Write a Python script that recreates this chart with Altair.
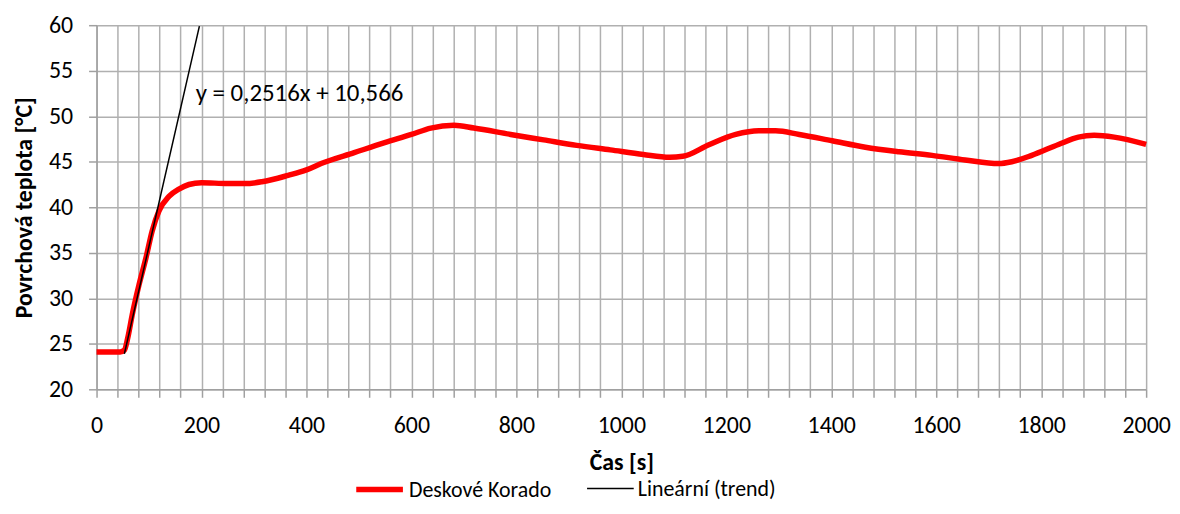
import altair as alt
import pandas as pd

# Measured curve "Deskové Korado"
t_vals = [0, 20, 45, 53, 60, 68, 81, 94, 106, 119, 138, 157, 176, 200, 250, 283, 315, 365,
          400, 428, 491, 549, 600, 637, 681, 719, 789, 852, 915, 979, 1042, 1092, 1117,
          1168, 1218, 1262, 1294, 1339, 1402, 1465, 1529, 1592, 1655, 1719, 1744, 1782,
          1833, 1871, 1901, 1939, 2000]
temp_vals = [24.1, 24.1, 24.1, 24.3, 25.8, 28.2, 31.5, 34.4, 37.4, 39.6, 41.2, 42.0, 42.5, 42.7,
             42.6, 42.6, 42.8, 43.5, 44.1, 44.8, 46.0, 47.1, 48.0, 48.7, 49.0, 48.7, 48.0,
             47.4, 46.8, 46.3, 45.8, 45.5, 45.6, 46.9, 48.0, 48.4, 48.4, 48.0, 47.3, 46.6,
             46.1, 45.7, 45.2, 44.8, 45.0, 45.7, 46.9, 47.7, 47.9, 47.7, 46.9]

# Linear trend end points (y = 0,2516x + 10,566)
trend_t = [53, 196]
trend_y = [23.9, 59.9]

series_names = ["Deskové Korado", "Lineární (trend)"]
series_colors = ["#ff0000", "#000000"]
series_widths = [5.5, 1.5]

y_ticks = [20, 25, 30, 35, 40, 45, 50, 55, 60]
x_ticks = list(range(0, 2001, 40))

equation_text = "y = 0,2516x + 10,566"

FONT = "Carlito, Calibri, Open Sans, sans-serif"


def make_legend():
    return alt.Legend(
        title=None,
        orient="none",
        direction="horizontal",
        legendX=258,
        legendY=440,
        symbolType="stroke",
        symbolSize=2200,
        labelFontSize=22,
        labelFont=FONT,
        labelColor="#000000",
        columnPadding=32,
        labelOffset=3,
        padding=0,
    )


df_main = pd.DataFrame({"t": t_vals, "temp": temp_vals, "series": series_names[0]})
df_trend = pd.DataFrame({"t": trend_t, "temp": trend_y, "series": series_names[1]})

x_axis = alt.Axis(
    title="Čas [s]",
    values=x_ticks,
    tickCount=100,
    format="d",
    labelExpr="datum.value % 200 == 0 ? datum.label : ''",
    labelOverlap=False,
    labelFlush=False,
    labelPadding=16,
    titlePadding=14,
)
x_enc = alt.X("t:Q", scale=alt.Scale(domain=[0, 2000], nice=False), axis=x_axis)
y_axis = alt.Axis(
    title="Povrchová teplota [°C]",
    values=y_ticks,
    tickCount=20,
    labelPadding=16,
    titlePadding=12,
)
y_enc = alt.Y("temp:Q", scale=alt.Scale(domain=[20, 60], nice=False, zero=False), axis=y_axis)
color_enc = alt.Color(
    "series:N",
    scale=alt.Scale(domain=series_names, range=series_colors),
    legend=make_legend(),
)
width_enc = alt.StrokeWidth(
    "series:N",
    scale=alt.Scale(domain=series_names, range=series_widths),
    legend=make_legend(),
)

main_line = alt.Chart(df_main).mark_line(interpolate="monotone", strokeCap="butt").encode(
    x=x_enc, y=y_enc, color=color_enc, strokeWidth=width_enc
)
trend_line = alt.Chart(df_trend).mark_line().encode(
    x=x_enc, y=y_enc, color=color_enc, strokeWidth=width_enc
)
label = alt.Chart(pd.DataFrame({"txt": [equation_text]})).mark_text(
    align="left", baseline="middle", fontSize=25, font=FONT, color="#000000"
).encode(x=alt.datum(189), y=alt.datum(52.6), text="txt:N")

chart = alt.layer(main_line, trend_line, label).properties(
    width=1055,
    height=366,
    autosize=alt.AutoSizeParams(type="none"),
    padding={"left": 89, "top": 16, "right": 26, "bottom": 116},
).configure_view(stroke=None).configure_axis(
    grid=True,
    gridColor="#b0b0b0",
    gridWidth=1.5,
    domainColor="#a0a0a0",
    domainWidth=1.5,
    tickColor="#a0a0a0",
    tickWidth=1.5,
    tickSize=8,
    labelFont=FONT,
    labelFontSize=24,
    labelColor="#000000",
    titleFont=FONT,
    titleFontSize=24,
    titleFontWeight="bold",
    titleColor="#000000",
)

chart.save("out.html", embed_options={"renderer": "svg", "actions": False})
